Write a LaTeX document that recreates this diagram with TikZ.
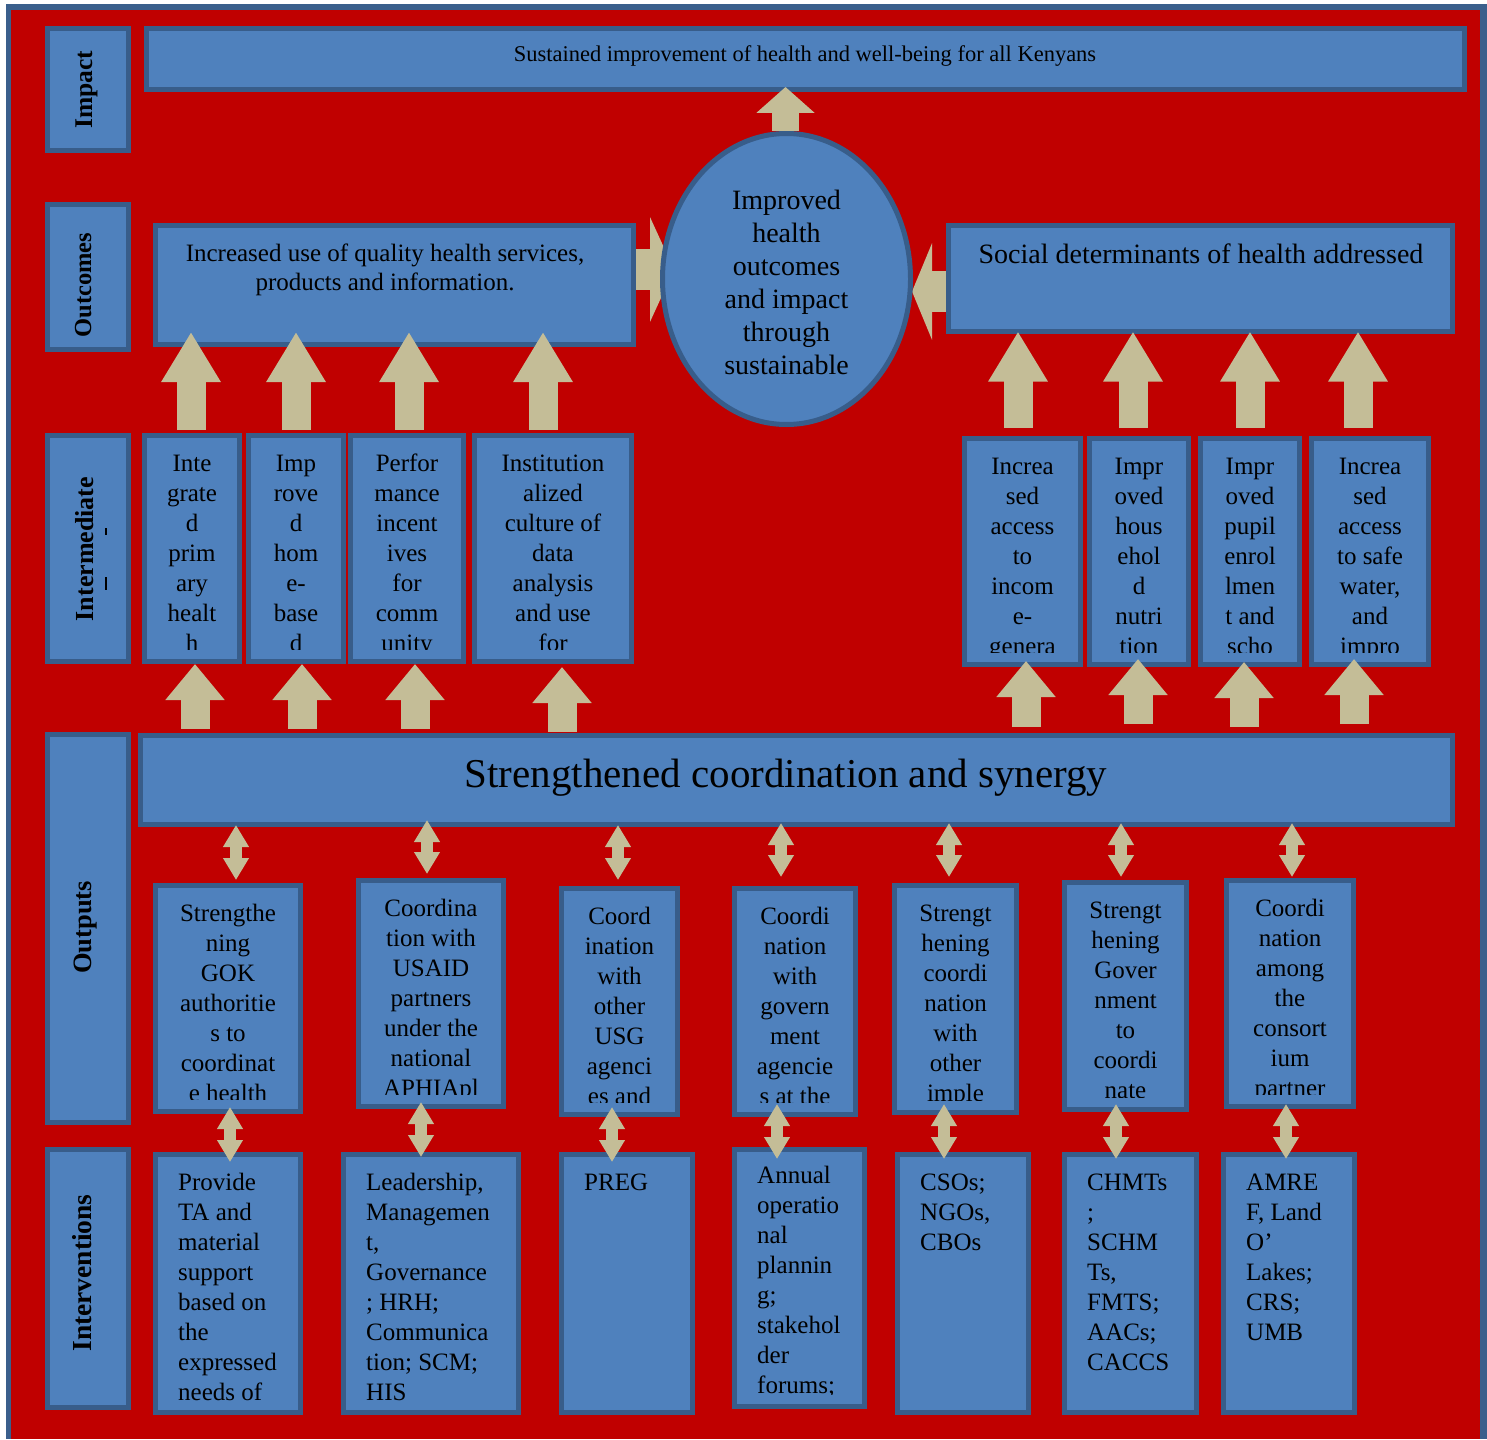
\documentclass[tikz,border=0pt]{standalone}
\usepackage{fontspec}
\setmainfont{Liberation Serif}
\usetikzlibrary{shapes.geometric,arrows.meta}
\definecolor{boxblue}{HTML}{4F81BD}
\definecolor{bordblue}{HTML}{385D8A}
\definecolor{bgred}{HTML}{C00000}
\definecolor{arrtan}{HTML}{C4BD97}
\definecolor{framebl}{HTML}{3A5F8C}
\pgfdeclarelayer{back}\pgfdeclarelayer{bg}\pgfsetlayers{back,bg,main}
\newcommand\fl{\rule{0pt}{18.75pt}}
\newcommand\mkbox[5]{\node[bx, minimum width={#4-#2-5}, minimum height={#5-#3-5}] (#1) at ({(#2+#4)/2},{(#3+#5)/2}) {};}
\newcommand\ctext[3][16.75]{\begin{scope}\clip ([xshift=2.5pt,yshift=-2.5pt]#2.north west) rectangle ([xshift=-2.5pt,yshift=12pt]#2.south east);\node[btxt, anchor=north, align=center] (#2-t) at ([yshift=-#1pt]#2.north) {\fl#3};\end{scope}}
\newcommand\ltext[3][16.75]{\begin{scope}\clip ([xshift=2.5pt,yshift=-2.5pt]#2.north west) rectangle ([xshift=-2.5pt,yshift=12pt]#2.south east);\node[btxt, anchor=north west, align=left] (#2-t) at ([xshift=22.5pt,yshift=-#1pt]#2.north west) {\fl#3};\end{scope}}
\tikzset{
  bx/.style={rectangle, draw=bordblue, fill=boxblue, line width=5pt, inner sep=0pt, outer sep=0pt},
  btxt/.style={inner sep=0pt, font=\fontsize{25}{30}\selectfont, text=black},
  lab/.style={rotate=90, anchor=base, inner sep=0pt, text=black},
  upar/.style={draw=arrtan, line width=29pt, -{Triangle[length=50pt,width=56pt]}},
  loar/.style={draw=arrtan, line width=29pt, -{Triangle[length=36pt,width=57pt]}},
  dbar/.style={draw=arrtan, line width=11.5pt, {Triangle[length=22pt,width=24.5pt]}-{Triangle[length=22pt,width=24.5pt]}},
}
\begin{document}
\begin{tikzpicture}[x=1pt,y=-1pt]
\useasboundingbox (0,0) rectangle (1487,1439);
\begin{pgfonlayer}{back}
\fill[framebl] (6,4) rectangle (1487,1439);
\fill[bgred] (11,10) rectangle (1480,1439);
\end{pgfonlayer}

% label column
\mkbox{lImp}{45}{26}{131}{153}
\mkbox{lOut}{45}{202}{131}{352}
\mkbox{lInt}{45}{433}{131}{664}
\mkbox{lOpt}{45}{732}{131}{1125}
\mkbox{lInv}{45}{1147}{131}{1410}
\node[lab, font=\bfseries\fontsize{25.5}{30}\selectfont] (lImp-t) at (92,89.5) {Impact};
\node[lab, font=\bfseries\fontsize{24.5}{30}\selectfont] (lOut-t) at (91,285) {Outcomes};
\node[lab, font=\bfseries\fontsize{26}{30}\selectfont] (lInt-t) at (93,549) {Intermediate};
\node[lab, font=\bfseries\fontsize{26.5}{30}\selectfont] (lOpt-t) at (91,927.5) {Outputs};
\node[lab, font=\bfseries\fontsize{27.5}{30}\selectfont] (lInv-t) at (91,1273) {Interventions};
\draw[line width=1.5pt] (106,528) -- (106,535);
\draw[line width=1.5pt] (106,577) -- (106,590);

% impact
\mkbox{imp}{144}{26}{1467}{92}
\node[inner sep=0pt, anchor=base, font=\fontsize{22.5}{27}\selectfont] (imp-t) at (805,62) {Sustained improvement of health and well-being for all Kenyans};

% outcomes
\mkbox{o1}{153}{223}{636}{347}
\node[inner sep=0pt, anchor=north, align=center, font=\fontsize{25}{29}\selectfont] (o1-t) at (385,242.25) {\fl Increased use of quality health services,\\products and information.};
\mkbox{o2}{946}{223}{1455}{334}
\node[inner sep=0pt, anchor=base, font=\fontsize{28}{33}\selectfont] (o2-t) at (1201,263) {Social determinants of health addressed};

% intermediate left
\mkbox{i1}{142}{433}{242}{664}
\mkbox{i2}{246}{433}{346}{664}
\mkbox{i3}{348}{433}{466}{664}
\mkbox{i4}{472}{433}{634}{664}
\ctext{i1}{Inte\\grate\\d\\prim\\ary\\healt\\h}
\ctext{i2}{Imp\\rove\\d\\hom\\e-\\base\\d}
\ctext{i3}{Perfor\\mance\\incent\\ives\\for\\comm\\unity}
\ctext{i4}{Institution\\alized\\culture of\\data\\analysis\\and use\\for}

% intermediate right
\mkbox{r1}{962}{436}{1083}{667}
\mkbox{r2}{1087}{436}{1191}{667}
\mkbox{r3}{1198}{436}{1302}{667}
\mkbox{r4}{1309}{436}{1431}{667}
\ctext{r1}{Increa\\sed\\access\\to\\incom\\e-\\genera}
\ctext{r2}{Impr\\oved\\hous\\ehol\\d\\nutri\\tion}
\ctext{r3}{Impr\\oved\\pupil\\enrol\\lmen\\t and\\scho}
\ctext{r4}{Increa\\sed\\access\\to safe\\water,\\and\\impro}

% outputs bar
\mkbox{bar}{138}{733}{1455}{827}
\node[inner sep=0pt, anchor=base, font=\fontsize{41}{48}\selectfont] (bar-t) at (786,787) {Strengthened coordination and synergy};

% outputs
\mkbox{p1}{153}{883}{303}{1114}
\mkbox{p2}{356}{878}{506}{1109}
\mkbox{p3}{559}{886}{680}{1117}
\mkbox{p4}{732}{886}{858}{1117}
\mkbox{p5}{892}{883}{1019}{1115}
\mkbox{p6}{1062}{880}{1189}{1112}
\mkbox{p7}{1224}{878}{1356}{1109}
\ctext{p1}{Strengthe\\ning\\GOK\\authoritie\\s to\\coordinat\\e health}
\ctext{p2}{Coordina\\tion with\\USAID\\partners\\under the\\national\\APHIApl}
\ctext{p3}{Coord\\ination\\with\\other\\USG\\agenci\\es and}
\ctext{p4}{Coordi\\nation\\with\\govern\\ment\\agencie\\s at the}
\ctext{p5}{Strengt\\hening\\coordi\\nation\\with\\other\\imple}
\ctext{p6}{Strengt\\hening\\Gover\\nment\\to\\coordi\\nate}
\ctext{p7}{Coordi\\nation\\among\\the\\consort\\ium\\partner}

% interventions
\mkbox{v1}{153}{1152}{303}{1415}
\mkbox{v2}{341}{1152}{521}{1415}
\mkbox{v3}{559}{1152}{695}{1415}
\mkbox{v4}{732}{1147}{867}{1409}
\mkbox{v5}{895}{1152}{1031}{1415}
\mkbox{v6}{1062}{1152}{1199}{1415}
\mkbox{v7}{1221}{1152}{1357}{1415}
\ltext{v1}{Provide\\TA and\\material\\support\\based on\\the\\expressed\\needs of}
\ltext{v2}{Leadership,\\Managemen\\t,\\Governance\\; HRH;\\Communica\\tion; SCM;\\HIS}
\ltext{v3}{PREG}
\ltext[14.75]{v4}{Annual\\operatio\\nal\\plannin\\g;\\stakehol\\der\\forums;}
\ltext{v5}{CSOs;\\NGOs,\\CBOs}
\ltext{v6}{CHMTs\\;\\SCHM\\Ts,\\FMTS;\\AACs;\\CACCS}
\ltext{v7}{AMRE\\F, Land\\O’\\Lakes;\\CRS;\\UMB}

% central ellipse
\node[bx, ellipse, minimum width=248pt, minimum height=291pt] (el) at (786.5,279) {};
\node[inner sep=0pt, anchor=north, align=center, font=\fontsize{28}{33}\selectfont] (el-t) at (786.5,188) {\rule{0pt}{21pt}Improved\\health\\outcomes\\and impact\\through\\sustainable};

% arrows behind the ellipse
\begin{pgfonlayer}{bg}
\draw[draw=arrtan, line width=41pt, -{Triangle[length=24pt,width=104pt]}] ([xshift=2.5pt,yshift=15.5pt]o1.east) -- ([xshift=11.5pt,yshift=9.5pt]el.west);
\draw[draw=arrtan, line width=41pt, -{Triangle[length=20pt,width=96pt]}] ([xshift=-2.5pt,yshift=-13pt]o2.west) -- ([xshift=1.5pt,yshift=-12.5pt]el.east);
\end{pgfonlayer}
% ellipse -> impact
\draw[draw=arrtan, line width=27pt, -{Triangle[length=26pt,width=57pt]}] ([xshift=-1pt,yshift=2.5pt]el.north) -- ([xshift=-1pt,yshift=2.5pt]el.north |- imp.south);

% intermediate -> outcomes
\draw[upar] ([xshift=-1pt,yshift=5.5pt]i1.north) -- ([xshift=-1pt,yshift=12.5pt]i1.north |- o1.south);
\draw[upar] ([yshift=5.5pt]i2.north) -- ([yshift=12.5pt]i2.north |- o1.south);
\draw[upar] ([xshift=2pt,yshift=5.5pt]i3.north) -- ([xshift=2pt,yshift=12.5pt]i3.north |- o1.south);
\draw[upar] ([xshift=-10pt,yshift=5.5pt]i4.north) -- ([xshift=-10pt,yshift=12.5pt]i4.north |- o1.south);
\draw[upar] ([xshift=-4.5pt,yshift=10.5pt]r1.north) -- ([xshift=-4.5pt]r1.north |- o2.south);
\draw[upar] ([xshift=-6pt,yshift=10.5pt]r2.north) -- ([xshift=-6pt]r2.north |- o2.south);
\draw[upar] ([yshift=10.5pt]r3.north) -- (r3.north |- o2.south);
\draw[upar] ([xshift=-12pt,yshift=10.5pt]r4.north) -- ([xshift=-12pt]r4.north |- o2.south);

% bar -> intermediate
\draw[loar] ([xshift=3pt,yshift=6.5pt]i1.south |- bar.north) -- ([xshift=3pt,yshift=-2.5pt]i1.south);
\draw[loar] ([xshift=6pt,yshift=6.5pt]i2.south |- bar.north) -- ([xshift=6pt,yshift=-2.5pt]i2.south);
\draw[loar] ([xshift=8pt,yshift=6.5pt]i3.south |- bar.north) -- ([xshift=8pt,yshift=-2.5pt]i3.south);
\draw[loar] ([xshift=9pt,yshift=3.5pt]i4.south |- bar.north) -- ([xshift=9pt,yshift=-5.5pt]i4.south);
\draw[loar] ([xshift=3.5pt,yshift=8.5pt]r1.south |- bar.north) -- ([xshift=3.5pt,yshift=3.5pt]r1.south);
\draw[loar] ([xshift=-1pt,yshift=11.5pt]r2.south |- bar.north) -- ([xshift=-1pt,yshift=5.5pt]r2.south);
\draw[loar] ([xshift=-6pt,yshift=8.5pt]r3.south |- bar.north) -- ([xshift=-6pt,yshift=2.5pt]r3.south);
\draw[loar] ([xshift=-16pt,yshift=11.5pt]r4.south |- bar.north) -- ([xshift=-16pt,yshift=5.5pt]r4.south);

% bar <-> outputs
\draw[dbar] ([xshift=8pt,yshift=-0.5pt]p1.north |- bar.south) -- ([xshift=8pt,yshift=5.5pt]p1.north);
\draw[dbar] ([xshift=-4pt,yshift=4.5pt]p2.north |- bar.south) -- ([xshift=-4pt,yshift=6.5pt]p2.north);
\draw[dbar] ([xshift=-1.5pt,yshift=-0.5pt]p3.north |- bar.south) -- ([xshift=-1.5pt,yshift=8.5pt]p3.north);
\draw[dbar] ([xshift=-14pt,yshift=1.5pt]p4.north |- bar.south) -- ([xshift=-14pt,yshift=11.5pt]p4.north);
\draw[dbar] ([xshift=-6.5pt,yshift=1.5pt]p5.north |- bar.south) -- ([xshift=-6.5pt,yshift=8.5pt]p5.north);
\draw[dbar] ([xshift=-4.5pt,yshift=1.5pt]p6.north |- bar.south) -- ([xshift=-4.5pt,yshift=5.5pt]p6.north);
\draw[dbar] ([xshift=2pt,yshift=1.5pt]p7.north |- bar.south) -- ([xshift=2pt,yshift=3.5pt]p7.north);

% outputs <-> interventions
\draw[dbar] ([xshift=2pt,yshift=4.5pt]p1.south) -- ([xshift=2pt,yshift=-7.5pt]p1.south |- v1.north);
\draw[dbar] ([xshift=-10pt,yshift=4.5pt]p2.south) -- ([xshift=-10pt,yshift=-2.5pt]p2.south |- v2.north);
\draw[dbar] ([xshift=-7.5pt,yshift=7.5pt]p3.south) -- ([xshift=-7.5pt,yshift=-7.5pt]p3.south |- v3.north);
\draw[dbar] ([xshift=-18pt,yshift=10.5pt]p4.south) -- ([xshift=-18pt,yshift=-9.5pt]p4.south |- v4.north);
\draw[dbar] ([xshift=-11.5pt,yshift=8.5pt]p5.south) -- ([xshift=-11.5pt,yshift=-4.5pt]p5.south |- v5.north);
\draw[dbar] ([xshift=-9.5pt,yshift=5.5pt]p6.south) -- ([xshift=-9.5pt,yshift=-4.5pt]p6.south |- v6.north);
\draw[dbar] ([xshift=-4pt,yshift=2.5pt]p7.south) -- ([xshift=-4pt,yshift=-4.5pt]p7.south |- v7.north);
\end{tikzpicture}
\end{document}
